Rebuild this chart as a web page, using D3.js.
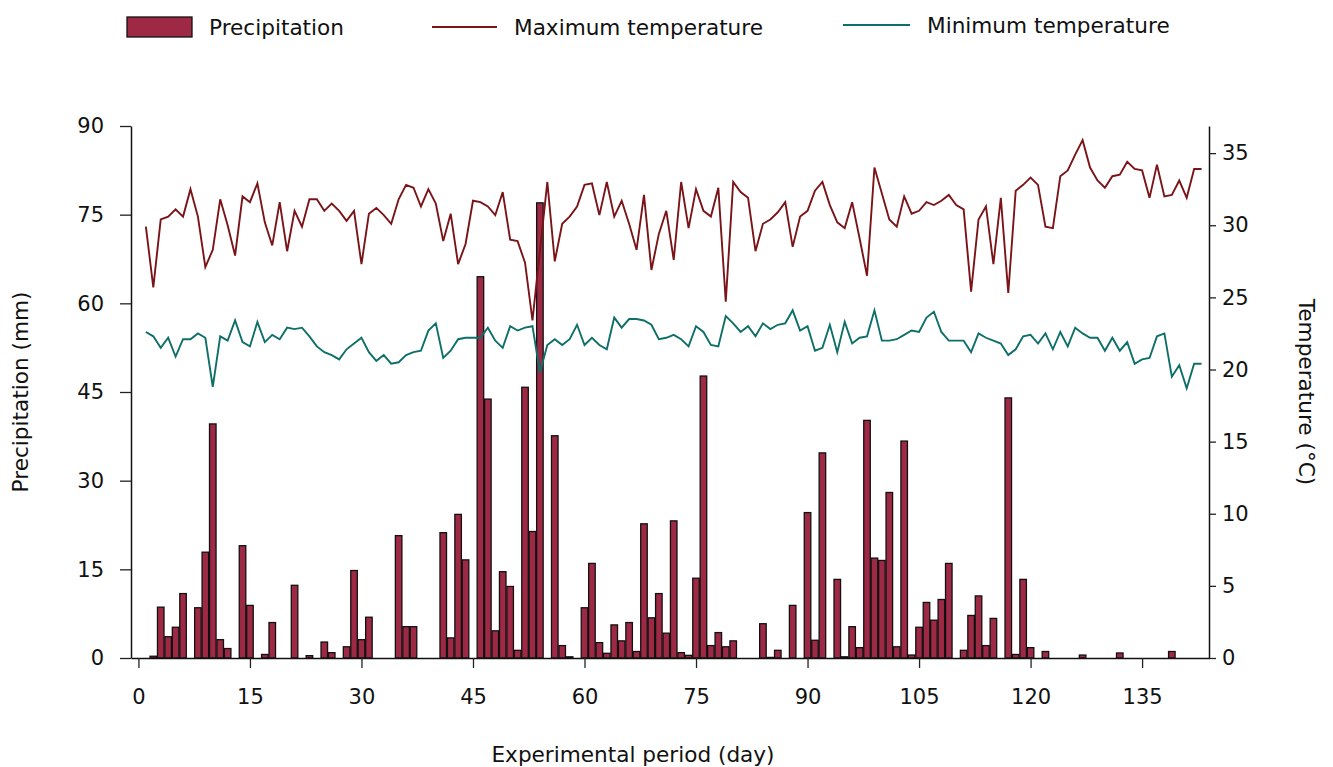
<!DOCTYPE html>
<html>
<head>
<meta charset="utf-8">
<script src="https://cdn.jsdelivr.net/npm/d3@7/dist/d3.min.js"></script>
<style>
  html, body { margin: 0; padding: 0; background: #fff; }
  svg { display: block; font-family: "DejaVu Sans", sans-serif; }
</style>
</head>
<body>
<svg id="chart" width="1333" height="767"></svg>
<script>
// ---- data (day 1 .. 143) ----
const days = d3.range(1, 144);

const maxTemp = [
  29.9, 25.7, 30.4, 30.6, 31.1, 30.6, 32.5, 30.6, 27.1, 28.3,
  31.8, 30.0, 27.9, 32.0, 31.6, 32.9, 30.2, 28.6, 31.6, 28.2,
  31.0, 29.9, 31.8, 31.8, 31.0, 31.5, 31.0, 30.3, 31.0, 27.3,
  30.8, 31.2, 30.7, 30.1, 31.8, 32.8, 32.6, 31.3, 32.5, 31.5,
  28.9, 30.8, 27.3, 28.7, 31.7, 31.6, 31.3, 30.7, 32.3, 29.0,
  28.9, 27.4, 23.4, 28.2, 33.0, 27.5, 30.1, 30.6, 31.3, 32.8,
  32.9, 30.7, 33.0, 30.6, 31.7, 30.1, 28.3, 32.1, 26.9, 29.4,
  31.0, 27.6, 33.0, 29.8, 32.5, 31.0, 30.6, 32.6, 24.7, 33.0,
  32.3, 31.9, 28.2, 30.1, 30.4, 30.9, 31.6, 28.5, 30.6, 31.0,
  32.4, 33.0, 31.4, 30.2, 29.8, 31.6, 29.1, 26.5, 34.0, 32.2,
  30.4, 29.9, 32.0, 30.8, 31.0, 31.6, 31.4, 31.7, 32.1, 31.4,
  31.1, 25.4, 30.4, 31.3, 27.3, 31.9, 25.3, 32.4, 32.8, 33.3,
  32.8, 29.9, 29.8, 33.4, 33.8, 34.9, 35.9, 34.0, 33.1, 32.6,
  33.4, 33.5, 34.4, 33.9, 33.8, 31.9, 34.2, 32.0, 32.1, 33.1,
  31.9, 33.9, 33.9
];

const minTemp = [
  22.6, 22.3, 21.5, 22.2, 20.9, 22.1, 22.1, 22.5, 22.2, 18.8,
  22.3, 22.0, 23.4, 21.9, 21.6, 23.3, 21.9, 22.4, 22.1, 22.9,
  22.8, 22.9, 22.3, 21.6, 21.2, 21.0, 20.7, 21.4, 21.8, 22.2,
  21.2, 20.6, 21.0, 20.4, 20.5, 21.0, 21.2, 21.3, 22.7, 23.2,
  20.8, 21.3, 22.1, 22.2, 22.2, 22.2, 22.9, 22.0, 21.5, 23.0,
  22.7, 22.9, 23.0, 19.8, 21.7, 22.1, 21.7, 22.1, 23.1, 21.7,
  22.2, 21.7, 21.4, 23.6, 22.9, 23.5, 23.5, 23.4, 23.1, 22.1,
  22.2, 22.4, 22.1, 21.6, 23.0, 22.6, 21.7, 21.6, 23.7, 23.2,
  22.6, 23.0, 22.3, 23.2, 22.8, 23.1, 23.2, 24.1, 22.7, 23.0,
  21.3, 21.5, 23.1, 21.2, 23.3, 21.8, 22.2, 22.3, 24.1, 22.0,
  22.0, 22.1, 22.4, 22.7, 22.6, 23.6, 24.0, 22.6, 22.0, 22.0,
  22.0, 21.2, 22.5, 22.2, 22.0, 21.8, 21.0, 21.4, 22.3, 22.4,
  21.8, 22.5, 21.4, 22.6, 21.6, 22.9, 22.5, 22.2, 22.2, 21.3,
  22.2, 21.3, 21.9, 20.4, 20.7, 20.8, 22.3, 22.5, 19.5, 20.3,
  18.7, 20.4, 20.4
];

const precipitation = [
  0, 0.3, 8.6, 3.6, 5.2, 10.9, 0, 8.5, 17.9, 39.6,
  3.1, 1.6, 0, 19.0, 8.9, 0, 0.6, 6.0, 0, 0,
  12.3, 0, 0.4, 0, 2.7, 0.9, 0, 1.9, 14.8, 3.1,
  6.9, 0, 0, 0, 20.7, 5.3, 5.3, 0, 0, 0,
  21.2, 3.4, 24.3, 16.6, 0, 64.5, 43.8, 4.6, 14.6, 12.1,
  1.3, 45.8, 21.4, 77.0, 0, 37.6, 2.1, 0.2, 0, 8.5,
  16.0, 2.6, 0.8, 5.6, 2.9, 6.0, 1.1, 22.7, 6.8, 10.9,
  4.2, 23.2, 0.9, 0.45, 13.5, 47.7, 2.1, 4.3, 1.9, 2.9,
  0, 0, 0, 5.8, 0.1, 1.3, 0, 8.9, 0, 24.6,
  3.0, 34.7, 0, 13.3, 0.2, 5.3, 1.75, 40.2, 16.9, 16.5,
  28.0, 1.9, 36.7, 0.5, 5.2, 9.4, 6.4, 9.9, 16.0, 0,
  1.3, 7.2, 10.5, 2.1, 6.7, 0, 44.0, 0.6, 13.3, 1.75,
  0, 1.1, 0, 0, 0, 0, 0.5, 0, 0, 0,
  0, 0.85, 0, 0, 0, 0, 0, 0, 1.1, 0,
  0, 0, 0
];

const xTicks = [0, 15, 30, 45, 60, 75, 90, 105, 120, 135];
const precipTicks = [0, 15, 30, 45, 60, 75, 90];
const tempTicks = [0, 5, 10, 15, 20, 25, 30, 35];

const seriesNames = ["Precipitation", "Maximum temperature", "Minimum temperature"];
const colors = { bar: "#9e2944", max: "#7a1418", min: "#0e6f69" };

// ---- layout ----
const svg = d3.select("#chart");
const L = 131, R = 1209, T = 126, B = 658;

const x = d3.scaleLinear().domain([-1, 144]).range([L, R]);
const yP = d3.scaleLinear().domain([0, 90]).range([B, T]);
const yT = d3.scaleLinear().domain([0, 36.88]).range([B, T]);

const barW = (x(1) - x(0)) * 0.88;

const rows = days.map((d, i) => ({ day: d, p: precipitation[i], tmax: maxTemp[i], tmin: minTemp[i] }));

// bars
svg.append("g")
  .selectAll("rect")
  .data(rows.filter(r => r.p > 0))
  .join("rect")
  .attr("x", r => x(r.day) - barW / 2)
  .attr("y", r => yP(r.p))
  .attr("width", barW)
  .attr("height", r => yP(0) - yP(r.p))
  .attr("fill", colors.bar)
  .attr("stroke", "#111")
  .attr("stroke-width", 1.3);

// lines
const lineMax = d3.line().x(r => x(r.day)).y(r => yT(r.tmax));
const lineMin = d3.line().x(r => x(r.day)).y(r => yT(r.tmin));

svg.append("path").datum(rows)
  .attr("d", lineMax).attr("fill", "none")
  .attr("stroke", colors.max).attr("stroke-width", 1.9).attr("stroke-linejoin", "miter");
svg.append("path").datum(rows)
  .attr("d", lineMin).attr("fill", "none")
  .attr("stroke", colors.min).attr("stroke-width", 1.9).attr("stroke-linejoin", "miter");

// axes
const fs = 21;
const gx = svg.append("g").attr("transform", `translate(0,${B})`)
  .call(d3.axisBottom(x).tickValues(xTicks).tickSize(10).tickPadding(21).tickSizeOuter(0));
const gl = svg.append("g").attr("transform", `translate(${L},0)`)
  .call(d3.axisLeft(yP).tickValues(precipTicks).tickSize(11).tickPadding(16).tickSizeOuter(0));
const gr = svg.append("g").attr("transform", `translate(${R},0)`)
  .call(d3.axisRight(yT).tickValues(tempTicks).tickSize(7).tickPadding(6).tickSizeOuter(0));

[gx, gl, gr].forEach(g => {
  g.selectAll("text").attr("font-size", fs).attr("font-family", "DejaVu Sans, sans-serif").attr("fill", "#111");
  g.selectAll("line").attr("stroke", "#222").attr("stroke-width", 1.3);
  g.select(".domain").attr("stroke", "#111").attr("stroke-width", 1.5);
});

// axis titles
const tfs = 21.6;
svg.append("text")
  .attr("transform", `translate(28,${(T + B) / 2}) rotate(-90)`)
  .attr("text-anchor", "middle").attr("font-size", tfs).attr("fill", "#111")
  .text("Precipitation (mm)");
svg.append("text")
  .attr("transform", `translate(1299,${(T + B) / 2}) rotate(90)`)
  .attr("text-anchor", "middle").attr("font-size", tfs).attr("fill", "#111")
  .text("Temperature (°C)");
svg.append("text")
  .attr("x", 633).attr("y", 762)
  .attr("text-anchor", "middle").attr("font-size", tfs).attr("fill", "#111")
  .text("Experimental period (day)");

// legend
const lg = svg.append("g").attr("font-size", tfs).attr("fill", "#111");
lg.append("rect").attr("x", 127).attr("y", 17).attr("width", 65).attr("height", 20)
  .attr("fill", colors.bar).attr("stroke", "#111").attr("stroke-width", 1.3);
lg.append("text").attr("x", 209).attr("y", 35).text(seriesNames[0]);
lg.append("line").attr("x1", 432).attr("x2", 497).attr("y1", 27).attr("y2", 27)
  .attr("stroke", colors.max).attr("stroke-width", 1.9);
lg.append("text").attr("x", 514).attr("y", 35).text(seriesNames[1]);
lg.append("line").attr("x1", 843).attr("x2", 910).attr("y1", 25).attr("y2", 25)
  .attr("stroke", colors.min).attr("stroke-width", 1.9);
lg.append("text").attr("x", 927).attr("y", 33).text(seriesNames[2]);
</script>
</body>
</html>
